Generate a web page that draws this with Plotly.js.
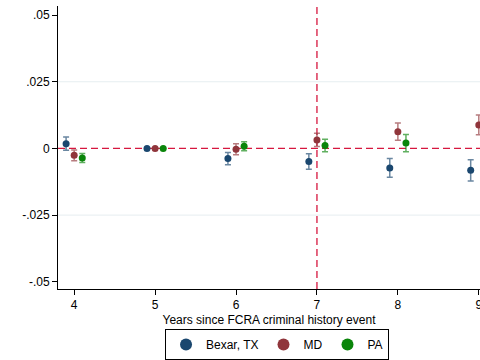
<!DOCTYPE html>
<html>
<head>
<meta charset="utf-8">
<script src="https://cdn.plot.ly/plotly-3.0.1.min.js"></script>
<style>html,body{margin:0;padding:0;background:#fff;}#chart{width:480px;height:360px;}</style>
</head>
<body>
<div id="chart"></div>
<script>
// Event years
const years = [4, 5, 6, 7, 8, 9];
const yearsPA = [4, 5, 6, 7, 8];
// Series estimates and 95% CI half-widths
const bexarVals = [0.0018, 0, -0.0038, -0.0049, -0.0073, -0.0082];
const bexarErr  = [0.0025, 0, 0.0023, 0.0029, 0.0035, 0.0040];
const mdVals    = [-0.0026, 0, -0.0003, 0.0032, 0.0063, 0.0088];
const mdErr     = [0.0020, 0, 0.0021, 0.0025, 0.0032, 0.0037];
const paVals    = [-0.0036, 0, 0.0008, 0.0011, 0.0020];
const paErr     = [0.0017, 0, 0.0017, 0.0023, 0.0032];
const seriesNames = ['Bexar, TX', 'MD', 'PA'];
const xTicks = [4, 5, 6, 7, 8, 9];
const yTicks = [-0.05, -0.025, 0, 0.025, 0.05];
const yTickText = ['-.05', '-.025', '0', '.025', '.05'];
const eventYear = 7;

const colors = ['#1a476f', '#90353b', '#0a850a'];
const errColors = ['rgba(26,71,111,0.65)', 'rgba(144,53,59,0.65)', 'rgba(10,133,10,0.65)'];
const offsets = [-0.1, 0, 0.1];

function mk(xs, vals, errs, i) {
  return {
    type: 'scatter', mode: 'markers', name: seriesNames[i],
    x: xs.map(v => v + offsets[i]), y: vals,
    marker: {color: colors[i], size: 7},
    error_y: {type: 'data', array: errs, visible: true, color: errColors[i], thickness: 1.5, width: 3},
    cliponaxis: true
  };
}

const data = [
  mk(years, bexarVals, bexarErr, 0),
  mk(years, mdVals, mdErr, 1),
  mk(yearsPA, paVals, paErr, 2)
];

const dashColor = '#d6173f';
const shapes = [
  {type: 'line', xref: 'paper', x0: 0, x1: 1, yref: 'y', y0: 0.025, y1: 0.025, line: {color: '#e6eef0', width: 1}, layer: 'below'},
  {type: 'line', xref: 'paper', x0: 0, x1: 1, yref: 'y', y0: -0.025, y1: -0.025, line: {color: '#e6eef0', width: 1}, layer: 'below'},
  {type: 'line', xref: 'paper', x0: 0, x1: 1, yref: 'y', y0: 0, y1: 0, line: {color: dashColor, width: 1.3, dash: '7px,4px'}, layer: 'below'},
  {type: 'line', xref: 'x', x0: eventYear, x1: eventYear, yref: 'paper', y0: 0, y1: 1, line: {color: dashColor, width: 1.3, dash: '7px,4px'}, layer: 'below'}
];

const font = {family: 'Liberation Sans, Arial, sans-serif', size: 12, color: '#000'};

const layout = {
  width: 480, height: 360,
  margin: {l: 58, r: 0, t: 6, b: 70, pad: 0},
  paper_bgcolor: '#fff', plot_bgcolor: '#fff',
  font: font,
  showlegend: true,
  xaxis: {
    range: [3.8, 9.015], tickvals: xTicks, ticktext: xTicks.map(String),
    showgrid: false, zeroline: false, showline: true, linecolor: '#000', linewidth: 1,
    ticks: 'outside', ticklen: 5, tickcolor: '#000', tickfont: font,
    ticklabeloverflow: 'allow',
    title: {text: 'Years since FCRA criminal history event', font: font, standoff: 4}
  },
  yaxis: {
    range: [-0.0527, 0.0534], tickvals: yTicks, ticktext: yTickText,
    showgrid: false, zeroline: false, showline: true, linecolor: '#000', linewidth: 1,
    ticks: 'outside', ticklen: 5, tickcolor: '#000', tickfont: font
  },
  legend: {
    orientation: 'h', x: 0.519, xanchor: 'center', y: -0.195, yanchor: 'middle',
    bordercolor: '#000', borderwidth: 1, font: font, itemsizing: 'constant',
    itemwidth: 30, tracegroupgap: 0
  },
  shapes: shapes
};

Plotly.newPlot('chart', data, layout, {staticPlot: true, displayModeBar: false});
</script>
</body>
</html>
